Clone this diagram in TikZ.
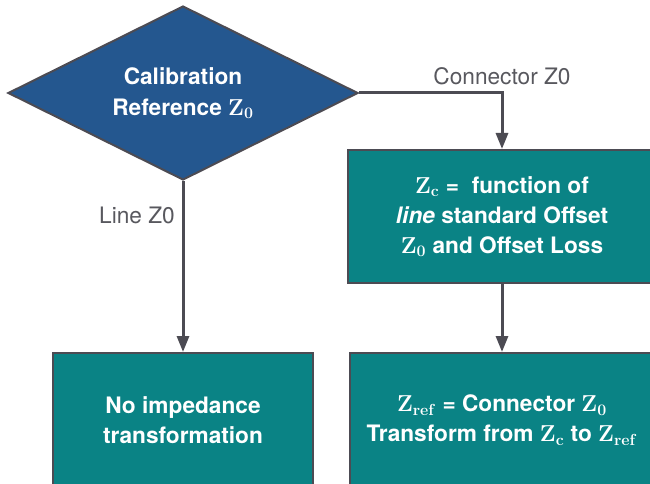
\documentclass[tikz,border=0pt]{standalone}
\usepackage[no-math]{fontspec}
\setmainfont{TeX Gyre Heros}
\usetikzlibrary{shapes.geometric, arrows.meta}
\definecolor{calblue}{HTML}{24578F}
\definecolor{calteal}{HTML}{0A8385}
\definecolor{edgegrey}{HTML}{4C4B53}
\definecolor{labelgrey}{HTML}{58585E}

\begin{document}
\begin{tikzpicture}[x=0.75pt,y=0.75pt,
  every node/.style={font=\fontsize{17}{23.25}\selectfont},
  decision/.style={diamond, aspect=2, draw=edgegrey, line width=1.5pt, fill=calblue,
    text=white, font=\fontsize{17}{23.25}\selectfont\bfseries\boldmath, align=center,
    minimum width=262.5pt, minimum height=130.5pt, inner sep=0pt},
  process/.style={rectangle, draw=edgegrey, line width=1.5pt, fill=calteal,
    text=white, font=\fontsize{17}{22.5}\selectfont\bfseries\boldmath, align=center, inner sep=0pt},
  flow/.style={draw=edgegrey, line width=2.25pt, -{Triangle[width=9pt,length=12pt]}},
  pathlabel/.style={text=labelgrey}]
\useasboundingbox (0,0) rectangle (650,483);
\clip (0,0) rectangle (650,483);
% decision
\node[decision] (calref) at (183,390) {Calibration\\Reference $\mathrm{Z}_0$};
% processes
\node[process, minimum width=231pt, minimum height=99.75pt] (zc) at (502,266.5)
  {$\mathrm{Z_c}$ = \ function of\\\textit{line} standard Offset\\$\mathrm{Z}_0$ and Offset Loss};
\node[process, minimum width=195pt, minimum height=100.5pt] (noimp) at (183,63)
  {No impedance\\transformation};
\node[process, minimum width=228pt, minimum height=100.5pt] (zref) at (502,63)
  {$\mathrm{Z_{ref}}$ = Connector $\mathrm{Z}_0$\\Transform from $\mathrm{Z_c}$ to $\mathrm{Z_{ref}}$};
% labels
\node[pathlabel] (conlabel) at (502,407) {Connector Z0};
\node[pathlabel] (linelabel) at (137,268) {Line Z0};
% connectors
\draw[flow] (calref.east) -| (zc.north);
\draw[flow] (calref.south) -- (noimp.north);
\draw[flow] (zc.south) -- (zref.north);
\end{tikzpicture}
\end{document}
